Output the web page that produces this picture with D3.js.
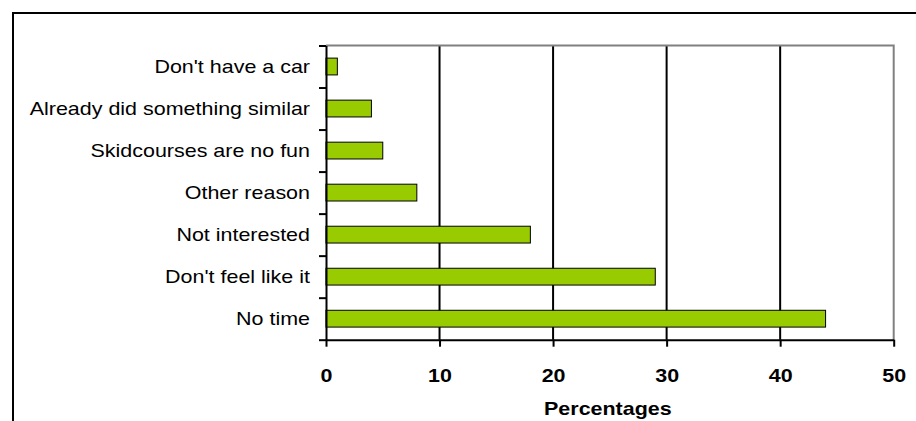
<!DOCTYPE html>
<html>
<head>
<meta charset="utf-8">
<script src="https://cdn.jsdelivr.net/npm/d3@7"></script>
<style>
  html, body { margin: 0; padding: 0; background: #fff; }
  svg { display: block; }
  text { font-family: "Liberation Sans", Arial, Helvetica, sans-serif; fill: #000; }
</style>
</head>
<body>
<svg id="chart" width="916" height="421"></svg>
<script>
// Reasons for not taking part, in percent of respondents
const categories = [
  "Don't have a car",
  "Already did something similar",
  "Skidcourses are no fun",
  "Other reason",
  "Not interested",
  "Don't feel like it",
  "No time"
];
const percentages = [1, 4, 5, 8, 18, 29, 44];
const xTicks = [0, 10, 20, 30, 40, 50];
const xTitle = "Percentages";

const svg = d3.select("#chart");
const W = 916, H = 421;
const plot = { left: 326, right: 893.7, top: 45.5, bottom: 339.7 };
const fontSize = 19;
const stretch = 1.13;   // labels are set slightly wide

svg.append("rect").attr("width", W).attr("height", H).attr("fill", "#fff");

// outer frame (runs past the right and bottom edges)
svg.append("path")
  .attr("d", `M13,${H + 2}V13H${W + 2}`)
  .attr("fill", "none").attr("stroke", "#000").attr("stroke-width", 2);

const x = d3.scaleLinear().domain([0, 50]).range([plot.left, plot.right]);
const y = d3.scaleBand().domain(categories)
  .range([plot.top, plot.bottom]).paddingInner(0.6).paddingOuter(0.3);

// vertical gridlines
svg.append("g").selectAll("line")
  .data(xTicks.filter(t => t > 0 && t < 50))
  .join("line")
  .attr("x1", d => x(d)).attr("x2", d => x(d))
  .attr("y1", plot.top).attr("y2", plot.bottom)
  .attr("stroke", "#000").attr("stroke-width", 2);

// grey plot border (top and right)
svg.append("path")
  .attr("d", `M${plot.left},${plot.top}H${x(50)}V${plot.bottom}`)
  .attr("fill", "none").attr("stroke", "#808080").attr("stroke-width", 2);

// bars
svg.append("g").selectAll("rect")
  .data(categories.map((c, i) => ({ c, v: percentages[i] })))
  .join("rect")
  .attr("x", x(0))
  .attr("y", d => y(d.c))
  .attr("width", d => x(d.v) - x(0))
  .attr("height", y.bandwidth())
  .attr("fill", "#99CC00")
  .attr("stroke", "#000").attr("stroke-width", 1);

// y axis: line with ticks on category boundaries
const yEdges = d3.scaleLinear().domain([0, categories.length]).range([plot.bottom, plot.top]);
const yAxis = svg.append("g")
  .attr("transform", `translate(${plot.left},0)`)
  .call(d3.axisLeft(yEdges).tickValues(d3.range(categories.length + 1))
    .tickSize(7).tickSizeOuter(0).tickFormat(""));
yAxis.selectAll("path, line").attr("stroke", "#000").attr("stroke-width", 2);

// x axis
const xAxis = svg.append("g")
  .attr("transform", `translate(0,${plot.bottom})`)
  .call(d3.axisBottom(x).tickValues(xTicks).tickSize(7).tickSizeOuter(0));
xAxis.selectAll("path, line").attr("stroke", "#000").attr("stroke-width", 2);
xAxis.selectAll("text")
  .attr("y", 42).attr("dy", null)
  .attr("transform", `scale(${stretch},1)`)
  .style("font-size", fontSize + "px").style("font-weight", "bold")
  .attr("fill", "#000");

// category labels
svg.append("g").selectAll("text")
  .data(categories)
  .join("text")
  .attr("transform", d => `translate(310,${y(d) + y.bandwidth() / 2 + 6.5}) scale(${stretch},1)`)
  .attr("text-anchor", "end")
  .style("font-size", fontSize + "px")
  .text(d => d);

// axis title
svg.append("text")
  .attr("transform", `translate(${(plot.left + plot.right) / 2 - 2},415) scale(${stretch},1)`)
  .attr("text-anchor", "middle")
  .style("font-size", fontSize + "px").style("font-weight", "bold")
  .text(xTitle);
</script>
</body>
</html>
